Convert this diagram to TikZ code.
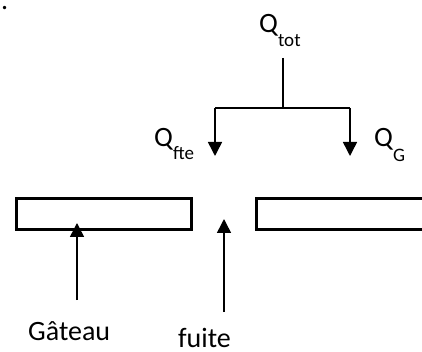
\documentclass[tikz,border=0pt]{standalone}
\usepackage{fontspec}
\setmainfont{Carlito}
\usetikzlibrary{arrows.meta}
\begin{document}
\begin{tikzpicture}[x=1pt,y=-1pt,
  lbl/.style={anchor=base west,inner sep=0pt,font=\fontsize{28}{30}\selectfont},
  conn/.style={line width=1.5pt},
  arr/.style={conn,-{Triangle[width=14pt,length=14pt]}},
  slab/.style={line width=3pt}]
\clip (0,0) rectangle (422,352);
\node[lbl] (dot) at (1,9.5) {.};
% labels
\node[lbl] (qtot) at (259,33) {Q\raisebox{-14pt}{\fontsize{19}{19}\selectfont tot}};
\node[lbl] (qfte) at (154,147) {Q\raisebox{-13pt}{\fontsize{19}{19}\selectfont fte}};
\node[lbl] (qg) at (374,147) {Q\raisebox{-15pt}{\fontsize{19}{19}\selectfont G}};
\node[lbl] (gateau) at (28,340) {Gâteau};
\node[lbl] (fuite) at (178,347) {fuite};
% branch
\coordinate (top) at (283,58);
\coordinate (mid) at (283,108);
\coordinate (bl) at (215,108);
\coordinate (br) at (350,108);
\coordinate (tl) at (215,156);
\coordinate (tr) at (350,156);
\draw[conn] (top) -- (mid);
\draw[conn] (bl) -- (br);
\draw[arr] (bl) -- (tl);
\draw[arr] (br) -- (tr);
% slabs
\node[slab,draw,minimum width=175pt,minimum height=31pt,inner sep=0pt,anchor=north west] (left) at (15,197) {};
\node[slab,draw,minimum width=175pt,minimum height=31pt,inner sep=0pt,anchor=north west] (right) at (255,197) {};
% lower arrows
\coordinate (ga) at (77,300);
\coordinate (gt) at (77,223);
\coordinate (fa) at (224,312);
\coordinate (ft) at (224,219);
\draw[arr] (ga) -- (gt);
\draw[arr] (fa) -- (ft);
\end{tikzpicture}
\end{document}
